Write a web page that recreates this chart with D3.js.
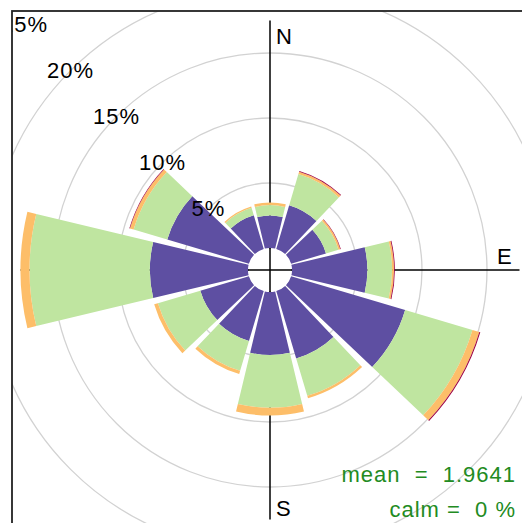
<!DOCTYPE html>
<meta charset="utf-8">
<style>
body { margin: 0; background: #fff; }
svg { display: block; font-family: "Liberation Sans", Arial, sans-serif; }
svg text { font-size: 22px; letter-spacing: 1px; }
</style>
<body>
<script src="https://cdn.jsdelivr.net/npm/d3@7"></script>
<script>

// wind directions (degrees) and % frequency per speed band
var directions = [0, 30, 60, 90, 120, 150, 180, 210, 240, 270, 300, 330];
var band1 = [2.5, 3.5, 2.8, 5.8, 9.15, 5.4, 4.85, 4.0, 3.9, 7.55, 6.55, 2.7];
var band2 = [0.8, 2.5, 1.0, 1.9, 5.4, 3.0, 4.05, 2.4, 3.4, 9.25, 2.7, 0.6];
var band3 = [0.2, 0.2, 0.15, 0.15, 0.55, 0.2, 0.6, 0.25, 0.3, 0.7, 0.3, 0.1];
var band4 = [0, 0.06, 0.04, 0.06, 0.08, 0, 0, 0, 0, 0, 0.04, 0];
var bandColours = ["#5E4FA2", "#BFE5A0", "#FDBE69", "#9E0142"];
var gridTicks = [5, 10, 15, 20];
var labelTicks = [5, 10, 15, 20, 25];
var meanText = "mean  =  1.9641";
var calmText = "calm =  0 %";

var W = 522, H = 523;
var cx = 270, cy = 270;
var seg = 0.9, angle = 30;

var svg = d3.select("body").append("svg")
    .attr("width", W)
    .attr("height", H);

svg.append("clipPath").attr("id", "panel")
  .append("rect").attr("x", 12).attr("y", 11).attr("width", W).attr("height", H);

var g = svg.append("g").attr("clip-path", "url(#panel)")
  .append("g").attr("transform", "translate(" + cx + "," + cy + ")");

// radius scale (with the hollow centre offset)
var r = d3.scaleLinear().domain([0, 20]).range([22, 282]);

// grid circles
g.selectAll(".grid")
    .data(gridTicks)
  .enter().append("circle")
    .attr("r", function(d) { return r(d); })
    .attr("fill", "none")
    .attr("stroke", "#d2d2d2")
    .attr("stroke-width", 1.3);

// axis cross
var maxR = r(17.5);
g.append("line").attr("x1", 0).attr("x2", 0).attr("y1", -maxR).attr("y2", maxR)
    .attr("stroke", "#000").attr("stroke-width", 1.5);
g.append("line").attr("x1", -maxR).attr("x2", maxR).attr("y1", 0).attr("y2", 0)
    .attr("stroke", "#000").attr("stroke-width", 1.5);

// build stacked wedges
var bands = [band1, band2, band3, band4];
var wedges = [];
directions.forEach(function(dir, i) {
  var cum = 0;
  bands.forEach(function(b, j) {
    if (b[i] > 0) {
      wedges.push({dir: dir, lo: cum, hi: cum + b[i], col: bandColours[j]});
    }
    cum += b[i];
  });
});

var arc = d3.arc()
    .innerRadius(function(d) { return r(d.lo); })
    .outerRadius(function(d) { return r(d.hi); })
    .startAngle(function(d) { return (d.dir - seg * angle / 2) * Math.PI / 180; })
    .endAngle(function(d) { return (d.dir + seg * angle / 2) * Math.PI / 180; });

g.selectAll(".wedge")
    .data(wedges)
  .enter().append("path")
    .attr("d", arc)
    .attr("fill", function(d) { return d.col; });

// hollow centre
g.append("circle").attr("r", r(0) - 0.5).attr("fill", "#fff");
g.append("line").attr("x1", 0).attr("x2", 0).attr("y1", -r(0)).attr("y2", r(0))
    .attr("stroke", "#000").attr("stroke-width", 1.5);
g.append("line").attr("x1", -r(0)).attr("x2", r(0)).attr("y1", 0).attr("y2", 0)
    .attr("stroke", "#000").attr("stroke-width", 1.5);

// percentage labels along the NW diagonal
var la = 315 * Math.PI / 180;
g.selectAll(".plab")
    .data(labelTicks)
  .enter().append("text")
    .attr("x", function(d) { return r(d) * Math.sin(la); })
    .attr("y", function(d) { return -r(d) * Math.cos(la); })
    .attr("dy", "0.35em")
    .attr("text-anchor", "middle")
    .text(function(d) { return d + "%"; });

// compass labels
g.append("text").attr("x", 6).attr("y", -226).text("N");
g.append("text").attr("x", 227).attr("y", -6).text("E");
g.append("text").attr("x", 6).attr("y", 246).text("S");

// mean / calm annotation
svg.append("text").attr("x", 516).attr("y", 482)
    .attr("text-anchor", "end").attr("xml:space", "preserve")
    .attr("fill", "forestgreen")
    .text(meanText);
svg.append("text").attr("x", 516).attr("y", 517)
    .attr("text-anchor", "end").attr("xml:space", "preserve")
    .attr("fill", "forestgreen")
    .text(calmText);

// panel frame
svg.append("rect").attr("x", 12).attr("y", 11).attr("width", W).attr("height", H)
    .attr("fill", "none").attr("stroke", "#222").attr("stroke-width", 1.8);

</script>
</body>
